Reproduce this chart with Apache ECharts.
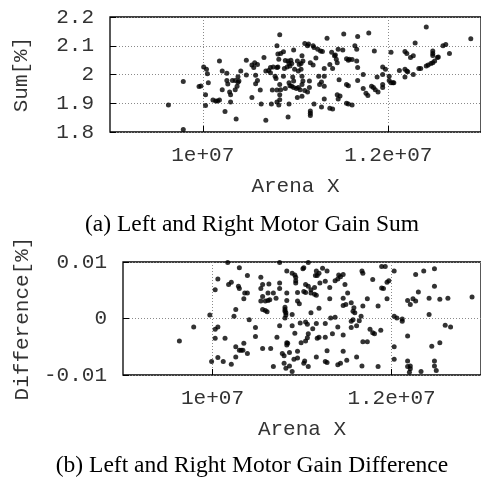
<!DOCTYPE html>
<html><head><meta charset="utf-8">
<script src="https://cdn.jsdelivr.net/npm/echarts@6/dist/echarts.min.js"></script>
<style>html,body{margin:0;padding:0;background:#fff}#c{width:481px;height:477px}</style>
</head><body><div id="c"></div>
<script>
// (a) Sum plot
const sumX = [9.79e6,9.96e6,9.98e6,9.63e6,9.79e6,10.83e6,10.80e6,10.81e6,10.84e6,10.87e6,10.82e6,10.89e6,10.92e6,10.93e6,10.01e6,10.04e6,10.05e6,10.18e6,10.21e6,10.26e6,10.26e6,10.27e6,10.32e6,10.35e6,10.38e6,10.39e6,10.38e6,10.41e6,10.47e6,10.53e6,10.55e6,10.56e6,10.59e6,10.47e6,10.57e6,10.59e6,10.57e6,10.66e6,10.68e6,10.71e6,10.73e6,10.73e6,10.76e6,10.80e6,10.81e6,10.78e6,10.79e6,10.87e6,10.91e6,10.88e6,10.93e6,10.94e6,10.83e6,10.84e6,10.83e6,10.80e6,10.75e6,10.89e6,10.03e6,10.03e6,10.06e6,10.11e6,10.14e6,10.16e6,10.18e6,10.21e6,10.24e6,10.29e6,10.30e6,10.30e6,10.35e6,10.37e6,10.36e6,10.53e6,10.62e6,10.63e6,10.68e6,10.74e6,10.80e6,10.82e6,10.83e6,10.92e6,10.95e6,10.96e6,10.94e6,10.98e6,10.99e6,10.97e6,10.98e6,10.96e6,10.98e6,10.93e6,11.02e6,11.04e6,11.06e6,11.08e6,11.07e6,11.03e6,11.06e6,11.07e6,11.08e6,11.07e6,11.01e6,11.03e6,11.05e6,11.02e6,11.07e6,11.10e6,11.13e6,11.14e6,11.10e6,11.13e6,11.16e6,11.19e6,11.19e6,11.20e6,11.15e6,11.15e6,11.16e6,11.16e6,11.16e6,11.22e6,11.24e6,11.27e6,11.29e6,11.25e6,11.26e6,11.28e6,11.20e6,11.31e6,11.31e6,11.31e6,11.31e6,11.28e6,11.34e6,11.37e6,11.39e6,11.42e6,11.43e6,11.40e6,11.46e6,11.44e6,11.45e6,11.47e6,11.45e6,11.48e6,11.46e6,11.37e6,11.40e6,11.52e6,11.51e6,11.55e6,11.57e6,11.58e6,11.61e6,11.55e6,11.57e6,11.55e6,11.57e6,11.61e6,11.64e6,11.66e6,11.67e6,11.66e6,11.67e6,11.67e6,11.73e6,11.73e6,11.76e6,11.78e6,11.79e6,11.82e6,11.84e6,11.86e6,11.85e6,11.94e6,11.97e6,11.88e6,11.94e6,11.94e6,11.94e6,11.89e6,12.01e6,12.01e6,12.03e6,12.05e6,12.06e6,12.03e6,12.12e6,12.18e6,12.20e6,12.24e6,12.27e6,12.18e6,12.20e6,12.21e6,12.18e6,12.27e6,12.29e6,12.33e6,12.35e6,12.41e6,12.41e6,12.43e6,12.46e6,12.48e6,12.50e6,12.53e6,12.54e6,12.48e6,12.48e6,12.48e6,12.59e6,12.62e6,12.66e6,12.89e6];
const sumY = [1.976,1.958,1.960,1.894,1.809,2.138,2.100,2.071,2.073,2.079,2.053,2.049,2.047,2.038,2.026,2.018,2.003,2.047,2.012,2.004,1.979,1.967,1.979,1.979,1.973,1.977,1.992,2.012,2.050,2.033,2.024,2.041,2.035,1.998,1.997,1.979,1.968,2.059,2.012,2.014,2.024,2.006,2.026,2.024,2.026,1.994,1.986,1.994,2.026,2.021,1.971,1.961,1.965,1.947,1.930,1.946,1.946,1.951,1.930,1.892,1.971,1.911,1.908,1.908,1.911,1.947,1.871,1.939,1.930,1.904,1.947,1.959,1.845,1.920,1.946,1.897,1.841,1.897,1.904,1.894,1.912,1.852,2.050,2.038,2.030,2.085,2.018,1.991,1.977,1.959,1.955,1.897,2.047,2.035,2.038,2.047,2.065,2.012,2.018,1.994,1.977,1.965,1.951,1.955,1.947,1.920,1.924,2.108,2.100,2.106,1.944,1.939,2.041,2.033,2.100,2.094,1.977,1.955,1.873,1.865,1.857,2.057,2.088,2.082,2.080,1.994,1.965,1.974,1.897,2.021,1.994,1.959,1.915,1.887,2.126,2.035,2.077,2.065,2.068,2.021,2.088,2.053,2.041,1.982,1.930,1.925,1.915,1.883,1.880,2.141,2.085,2.055,2.050,2.053,2.052,1.965,1.961,1.900,1.897,1.894,2.100,2.088,2.132,2.047,2.024,1.979,2.000,1.951,1.935,1.927,2.144,1.959,1.955,1.947,2.082,2.026,2.018,1.991,2.000,1.965,1.955,1.939,1.994,1.979,1.971,1.971,1.971,2.077,2.014,2.080,2.073,2.059,2.065,2.018,2.012,2.010,1.991,2.000,2.110,2.021,2.021,2.165,2.030,2.033,2.038,2.041,2.047,2.059,2.061,2.082,2.073,2.066,2.100,2.104,2.073,2.124];

// (b) Difference plot
const diffX = [9.97e6,9.79e6,9.63e6,9.99e6,10.17e6,10.75e6,10.30e6,10.83e6,10.89e6,10.92e6,10.93e6,10.93e6,10.93e6,10.06e6,10.21e6,10.18e6,10.39e6,10.54e6,10.56e6,10.75e6,10.63e6,10.75e6,10.03e6,10.29e6,10.30e6,10.36e6,10.39e6,10.35e6,10.54e6,10.56e6,10.62e6,10.68e6,10.54e6,10.59e6,10.62e6,10.64e6,10.71e6,10.83e6,10.83e6,10.95e6,10.97e6,10.56e6,10.59e6,10.61e6,10.81e6,10.81e6,10.81e6,10.82e6,10.82e6,10.81e6,10.89e6,10.26e6,10.24e6,10.41e6,10.06e6,10.03e6,10.48e6,10.75e6,10.89e6,10.03e6,10.14e6,10.48e6,10.72e6,10.83e6,10.84e6,10.83e6,10.92e6,10.99e6,10.26e6,10.30e6,10.32e6,10.34e6,10.35e6,10.39e6,10.56e6,10.65e6,10.78e6,10.80e6,10.86e6,10.95e6,10.06e6,10.12e6,10.21e6,10.26e6,10.68e6,10.80e6,10.82e6,10.86e6,10.89e6,10.91e6,11.07e6,11.02e6,11.01e6,11.16e6,11.19e6,11.17e6,11.15e6,11.23e6,11.28e6,11.41e6,11.43e6,11.40e6,11.46e6,11.37e6,11.20e6,11.26e6,11.31e6,11.04e6,11.07e6,11.10e6,11.14e6,10.95e6,11.02e6,11.04e6,11.10e6,11.14e6,11.16e6,11.31e6,11.48e6,11.51e6,11.46e6,11.46e6,11.49e6,11.55e6,11.58e6,11.57e6,11.59e6,11.67e6,11.68e6,11.73e6,11.68e6,11.79e6,11.89e6,11.93e6,11.95e6,11.91e6,11.89e6,11.95e6,11.85e6,11.10e6,11.19e6,11.32e6,11.37e6,11.55e6,11.57e6,11.64e6,11.66e6,10.98e6,11.04e6,11.06e6,11.12e6,11.16e6,11.26e6,11.40e6,11.55e6,11.61e6,11.07e6,11.06e6,11.04e6,11.17e6,11.19e6,11.26e6,11.34e6,11.46e6,11.76e6,11.79e6,11.81e6,11.88e6,11.68e6,11.73e6,11.28e6,11.46e6,11.61e6,10.95e6,11.03e6,11.02e6,11.07e6,11.16e6,11.26e6,11.28e6,11.40e6,11.43e6,11.50e6,11.67e6,11.85e6,12.03e6,12.27e6,12.36e6,12.48e6,11.97e6,12.30e6,12.48e6,12.18e6,12.21e6,12.24e6,12.27e6,12.42e6,12.54e6,12.63e6,12.90e6,12.42e6,12.03e6,12.06e6,12.12e6,12.12e6,12.60e6,12.66e6,12.18e6,12.45e6,12.54e6,12.03e6,12.03e6,12.18e6,12.48e6,12.18e6,12.21e6,12.21e6,12.20e6,12.33e6,12.48e6,12.50e6];
const diffY = [0.0006,-0.0015,-0.0040,-0.0076,0.0099,0.0099,0.0090,0.0084,0.0080,0.0077,0.0073,0.0067,0.0063,0.0070,0.0064,0.0060,0.0076,0.0073,0.0060,0.0063,0.0061,0.0053,0.0051,0.0057,0.0053,0.0045,0.0045,0.0035,0.0053,0.0039,0.0045,0.0045,0.0031,0.0031,0.0032,0.0033,0.0036,0.0045,0.0032,0.0031,0.0026,0.0016,0.0014,0.0012,0.0020,0.0016,0.0013,0.0010,0.0006,0.0001,0.0007,0.0016,0.0004,-0.0002,-0.0015,-0.0019,-0.0016,-0.0013,-0.0013,-0.0035,-0.0035,-0.0032,-0.0033,-0.0043,-0.0044,-0.0047,-0.0026,-0.0043,-0.0050,-0.0056,-0.0056,-0.0056,-0.0044,-0.0062,-0.0053,-0.0053,-0.0062,-0.0066,-0.0060,-0.0058,-0.0069,-0.0076,-0.0081,-0.0068,-0.0085,-0.0079,-0.0088,-0.0084,-0.0094,-0.0072,0.0099,0.0090,0.0088,0.0084,0.0080,0.0076,0.0076,0.0089,0.0084,0.0077,0.0074,0.0070,0.0078,0.0067,0.0063,0.0066,0.0055,0.0060,0.0057,0.0051,0.0055,0.0046,0.0048,0.0046,0.0045,0.0043,0.0041,0.0035,0.0060,0.0045,0.0036,0.0023,0.0025,0.0028,0.0019,0.0013,0.0010,0.0084,0.0080,0.0035,0.0022,0.0069,0.0092,0.0092,0.0064,0.0053,0.0054,0.0035,0.0022,0.0010,0.0018,0.0001,0.0002,-0.0005,-0.0002,-0.0004,0.0004,-0.0008,-0.0006,-0.0010,-0.0018,-0.0009,-0.0009,-0.0015,-0.0016,-0.0013,-0.0027,-0.0034,-0.0040,-0.0035,-0.0033,-0.0033,-0.0027,-0.0029,-0.0019,-0.0025,-0.0027,-0.0021,-0.0041,-0.0041,-0.0057,-0.0058,-0.0068,-0.0070,-0.0075,-0.0079,-0.0085,-0.0068,-0.0076,-0.0078,-0.0082,-0.0079,-0.0074,-0.0084,-0.0085,0.0084,0.0078,0.0084,0.0088,0.0067,0.0047,0.0057,0.0032,0.0025,0.0035,0.0031,0.0036,0.0034,0.0036,0.0038,0.0007,0.0004,0.0001,-0.0001,-0.0005,-0.0012,-0.0015,-0.0031,-0.0049,-0.0043,-0.0050,-0.0072,-0.0075,-0.0075,-0.0085,-0.0084,-0.0089,-0.0095,-0.0094,-0.0084,-0.0092];

const xTickValues = [1e7, 1.2e7];
const xLabel = 'Arena X';
const sumLabel = 'Sum[%]';
const diffLabel = 'Difference[%]';
const captionA = '(a) Left and Right Motor Gain Sum';
const captionB = '(b) Left and Right Motor Gain Difference';

const mono = 'Liberation Mono';
const textColor = '#333';
const zip = (a, b) => a.map((v, i) => [v, b[i]]);
const fmtX = v => v.toExponential().replace(/e\+(\d)$/, 'e+0$1');

const splitLine = { show: true, lineStyle: { color: '#8a8a8a', width: 1, type: [1, 2] } };
const tick = { show: true, inside: true, length: 6, lineStyle: { color: '#000', width: 1 } };

function xAxis(gridIndex) {
  return {
    type: 'value', gridIndex, min: 9e6, max: 1.3e7,
    axisLine: { show: false, onZero: false },
    axisTick: Object.assign({}, tick, { customValues: xTickValues }),
    axisLabel: { customValues: xTickValues, formatter: fmtX, margin: 13,
      fontFamily: mono, fontSize: 21, color: textColor },
    splitLine: splitLine,
    name: xLabel, nameLocation: 'middle', nameGap: 44,
    nameTextStyle: { fontFamily: mono, fontSize: 21, color: textColor }
  };
}
function yAxis(gridIndex, min, max, interval, name, gap) {
  return {
    type: 'value', gridIndex, min, max, interval,
    axisLine: { show: false, onZero: false },
    axisTick: tick,
    axisLabel: { margin: 16, fontFamily: mono, fontSize: 21, color: textColor },
    splitLine: splitLine,
    name, nameLocation: 'middle', nameGap: gap,
    nameTextStyle: { fontFamily: mono, fontSize: 21, color: textColor }
  };
}

const chart = echarts.init(document.getElementById('c'), null, { renderer: 'canvas' });
chart.setOption({
  animation: false,
  backgroundColor: '#fff',
  grid: [
    { left: 110, top: 17, width: 380, height: 115, show: true, borderColor: '#000', borderWidth: 1.3, containLabel: false },
    { left: 123, top: 262, width: 366, height: 113, show: true, borderColor: '#000', borderWidth: 1.3, containLabel: false }
  ],
  xAxis: [xAxis(0), xAxis(1)],
  yAxis: [
    yAxis(0, 1.8, 2.2, 0.1, sumLabel, 78),
    yAxis(1, -0.01, 0.01, 0.01, diffLabel, 90)
  ],
  series: [
    { type: 'scatter', xAxisIndex: 0, yAxisIndex: 0, data: zip(sumX, sumY),
      symbol: 'circle', symbolSize: 5, itemStyle: { color: '#000' } },
    { type: 'scatter', xAxisIndex: 1, yAxisIndex: 1, data: zip(diffX, diffY),
      symbol: 'circle', symbolSize: 5, itemStyle: { color: '#000' } }
  ],
  graphic: [
    { type: 'text', x: 252, y: 225, style: { text: captionA, font: '23.5px "Liberation Serif"', fill: '#000', textAlign: 'center', textVerticalAlign: 'middle' } },
    { type: 'text', x: 252, y: 466, style: { text: captionB, font: '23.5px "Liberation Serif"', fill: '#000', textAlign: 'center', textVerticalAlign: 'middle' } }
  ]
});
</script></body></html>
